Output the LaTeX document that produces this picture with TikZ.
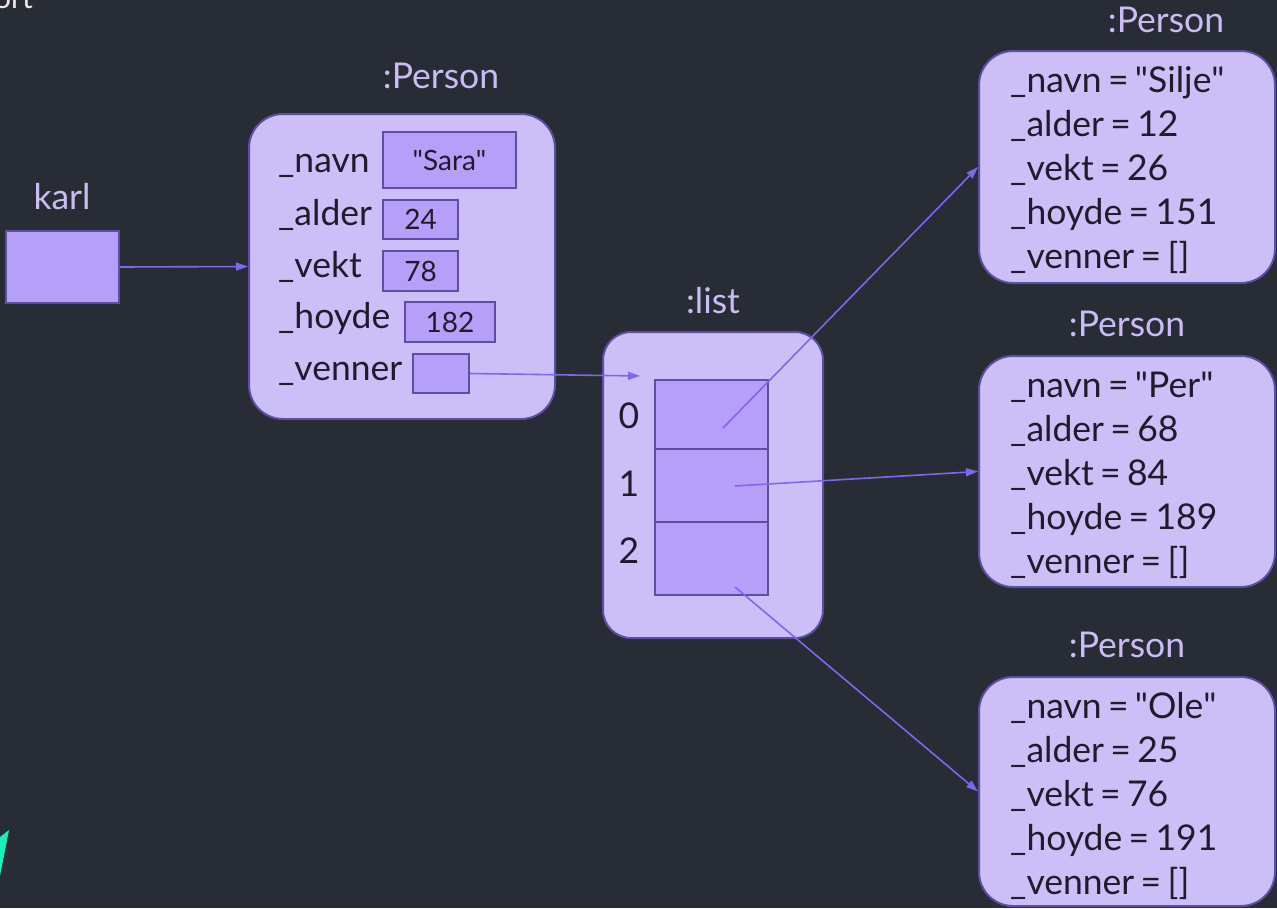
\documentclass[tikz,border=0pt]{standalone}
\usepackage{fontspec}
\setmainfont{Lato}[WordSpace=0.7]
\usetikzlibrary{arrows.meta}
\definecolor{bg}{RGB}{40,44,52}
\definecolor{objfill}{RGB}{204,191,247}
\definecolor{cellfill}{RGB}{181,159,248}
\definecolor{edge}{RGB}{92,79,163}
\definecolor{ptr}{RGB}{123,104,238}
\definecolor{ink}{RGB}{31,27,45}
\definecolor{caption}{RGB}{203,188,245}
\definecolor{pale}{RGB}{245,230,238}
\definecolor{mint}{RGB}{22,240,186}
\newcommand{\qq}[1]{\textquotedbl#1\textquotedbl}
\tikzset{
  objbox/.style={draw=edge, fill=objfill, line width=2pt, rounded corners=34pt,
    minimum width=#1, inner sep=0pt},
  cellbox/.style={draw=edge, fill=cellfill, line width=2pt, inner sep=0pt,
    text=ink, font=\fontsize{28}{30}\selectfont},
  field/.style={text=ink, font=\fontsize{35.5}{40}\selectfont, inner sep=0pt, anchor=base west},
  typelabel/.style={text=caption, font=\fontsize{35.5}{40}\selectfont, inner sep=0pt, anchor=base},
  pointer/.style={draw=ptr, line width=1.6pt, -{Triangle[length=12pt,width=8pt]}},
}
\begin{document}
\begin{tikzpicture}[x=1pt,y=-1pt]
\useasboundingbox (0,0) rectangle (1277,908);
\fill[bg] (0,0) rectangle (1277,908);

% clipped text in the corner and the accent sliver
\begin{scope}
\clip (0,0) rectangle (1277,908);
\node[text=pale, font=\fontsize{30}{36}\selectfont, inner sep=0pt, anchor=base east] (corner) at (33,8) {ort};
\fill[mint] (9,830) -- (0,837) -- (0,876) -- cycle;
\end{scope}

% variable karl
\node[typelabel] (karllab) at (62,209) {karl};
\node[cellbox, minimum width=113pt, minimum height=72pt] (karl) at (62.5,267) {};

% Person object for Sara
\node[typelabel] (saralab) at (441,88) {:Person};
\node[objbox=306pt, minimum height=305pt] (sara) at (402,266.5) {};
\node[field] (fnavn) at (278,172) {\_navn};
\node[field] (falder) at (278,225) {\_alder};
\node[field] (fvekt) at (278,277) {\_vekt};
\node[field] (fhoyde) at (278,328) {\_hoyde};
\node[field] (fvenner) at (278,380) {\_venner};
\node[cellbox, minimum width=133pt, minimum height=56pt] (vnavn) at (449.5,160) {\qq{Sara}};
\node[cellbox, minimum width=75pt, minimum height=39pt] (valder) at (420.5,219.5) {24};
\node[cellbox, minimum width=75pt, minimum height=40pt] (vvekt) at (420.5,271) {78};
\node[cellbox, minimum width=90pt, minimum height=40pt] (vhoyde) at (450,322) {182};
\node[cellbox, minimum width=56pt, minimum height=39pt] (vvenner) at (441,373.5) {};

% list object
\node[typelabel] (listlab) at (713,313) {:list};
\node[objbox=220pt, minimum height=306pt, rounded corners=28pt] (lst) at (713,485) {};
\node[cellbox, minimum width=113pt, minimum height=69pt] (c0) at (711.5,414.5) {};
\node[cellbox, minimum width=113pt, minimum height=73pt] (c1) at (711.5,485.5) {};
\node[cellbox, minimum width=113pt, minimum height=73pt] (c2) at (711.5,558.5) {};
\node[field, anchor=base] (i0) at (629,428) {0};
\node[field, anchor=base] (i1) at (629,496) {1};
\node[field, anchor=base] (i2) at (629,563) {2};
\coordinate (listin) at (640,376);
\coordinate (p0) at (723,428);
\coordinate (p1) at (735,486);
\coordinate (p2) at (735,587);

% Person objects for the friends
\node[typelabel] (siljelab) at (1166,32) {:Person};
\node[objbox=296pt, minimum height=232pt] (silje) at (1127,167) {};
\node[field] (s1) at (1010,92) {\_navn = \qq{Silje}};
\node[field] (s2) at (1010,136) {\_alder = 12};
\node[field] (s3) at (1010,180) {\_vekt = 26};
\node[field] (s4) at (1010,224) {\_hoyde = 151};
\node[field] (s5) at (1010,268) {\_venner = []};

\node[typelabel] (perlab) at (1127,336) {:Person};
\node[objbox=296pt, minimum height=231pt] (per) at (1127,471.5) {};
\node[field] (q1) at (1010,397) {\_navn = \qq{Per}};
\node[field] (q2) at (1010,441) {\_alder = 68};
\node[field] (q3) at (1010,485) {\_vekt = 84};
\node[field] (q4) at (1010,529) {\_hoyde = 189};
\node[field] (q5) at (1010,573) {\_venner = []};

\node[typelabel] (olelab) at (1127,657) {:Person};
\node[objbox=296pt, minimum height=229pt] (ole) at (1127,791.5) {};
\node[field] (o1) at (1010,718) {\_navn = \qq{Ole}};
\node[field] (o2) at (1010,762) {\_alder = 25};
\node[field] (o3) at (1010,806) {\_vekt = 76};
\node[field] (o4) at (1010,850) {\_hoyde = 191};
\node[field] (o5) at (1010,894) {\_venner = []};

% references
\draw[pointer] (karl.east) -- (sara.west);
\draw[pointer] (vvenner.east) -- (listin);
\draw[pointer] (p0) -- (silje.west);
\draw[pointer] (p1) -- (per.west);
\draw[pointer] (p2) -- (ole.west);
\end{tikzpicture}
\end{document}
